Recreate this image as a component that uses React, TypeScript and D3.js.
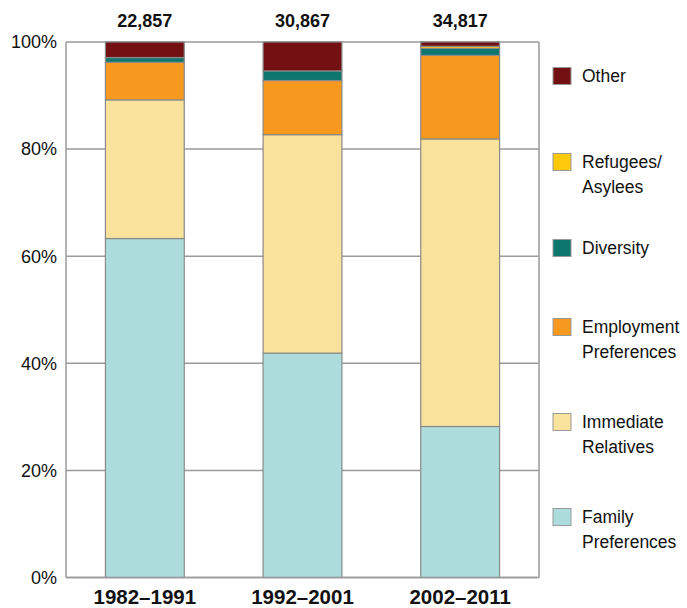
import React from 'react';
import * as d3 from 'd3';

// decades shown on the x axis
const periods = ['1982–1991', '1992–2001', '2002–2011'];
const totals = ['22,857', '30,867', '34,817'];

// share of each class of admission, in percent (bottom to top)
const familyPreferences = [63.3, 41.9, 28.2];
const immediateRelatives = [25.9, 40.8, 53.7];
const employmentPreferences = [7.0, 10.1, 15.6];
const diversity = [0.9, 1.8, 1.3];
const refugeesAsylees = [0.0, 0.0, 0.4];
const other = [2.9, 5.4, 0.8];

const yTicks = [0, 20, 40, 60, 80, 100];

const seriesKeys = ['Family', 'Immediate', 'Employment', 'Diversity', 'Refugees', 'Other'];
const seriesColors = ['#acdcdc', '#f9e29c', '#f7991f', '#0e776d', '#fdc90a', '#731012'];
const legendLabels = [
  ['Family', 'Preferences'],
  ['Immediate', 'Relatives'],
  ['Employment', 'Preferences'],
  ['Diversity'],
  ['Refugees/', 'Asylees'],
  ['Other'],
];
// legend rows sit at these centres (from top of page), bottom series first
const legendY = [517, 422, 327, 248, 162, 76];

const W = 687;
const H = 608;
const margin = { top: 42, left: 66, right: 148, bottom: 30.5 };
const FONT = '"Liberation Sans", Arial, sans-serif';

export default function App() {
  const rows = periods.map((p, i) => ({
    period: p,
    Family: familyPreferences[i],
    Immediate: immediateRelatives[i],
    Employment: employmentPreferences[i],
    Diversity: diversity[i],
    Refugees: refugeesAsylees[i],
    Other: other[i],
  }));

  const stacked = d3.stack<any>().keys(seriesKeys)(rows);

  const x = d3.scaleBand()
    .domain(periods)
    .range([margin.left, W - margin.right])
    .paddingInner(0.5)
    .paddingOuter(0.25);

  const y = d3.scaleLinear()
    .domain([0, 100])
    .range([H - margin.bottom, margin.top]);

  const x0 = margin.left;
  const x1 = W - margin.right;

  return (
    <div style={{ position: 'absolute', left: 0, top: 0 }}>
      <svg width={W} height={H} style={{ display: 'block', fontFamily: FONT }}>
        {/* gridlines */}
        {yTicks.map(t => (
          <line key={t} x1={x0} x2={x1} y1={y(t)} y2={y(t)} stroke="#9a9a9a" strokeWidth={1.5} />
        ))}
        {/* frame */}
        <line x1={x0} x2={x0} y1={y(0)} y2={y(100)} stroke="#9a9a9a" strokeWidth={1.5} />
        <line x1={x1} x2={x1} y1={y(0)} y2={y(100)} stroke="#9a9a9a" strokeWidth={1.5} />

        {/* bars */}
        {stacked.map((s, si) => (
          <g key={s.key}>
            {s.map((d, i) => (
              d[1] - d[0] > 0 ? (
                <rect
                  key={i}
                  x={x(periods[i])}
                  y={y(d[1])}
                  width={x.bandwidth()}
                  height={y(d[0]) - y(d[1])}
                  fill={seriesColors[si]}
                  stroke="#8a8a8a"
                  strokeWidth={1.2}
                />
              ) : null
            ))}
          </g>
        ))}
        <line x1={x0} x2={x1} y1={y(0)} y2={y(0)} stroke="#9a9a9a" strokeWidth={1.5} />

        {/* y tick labels */}
        {yTicks.map(t => (
          <text key={t} x={x0 - 9} y={y(t)} dy="0.35em" textAnchor="end" fontSize={18} fill="#111">
            {t}%
          </text>
        ))}

        {/* totals */}
        {periods.map((p, i) => (
          <text key={p} x={x(p)! + x.bandwidth() / 2} y={27} textAnchor="middle" fontSize={18} fontWeight="bold" fill="#111">
            {totals[i]}
          </text>
        ))}

        {/* category labels */}
        {periods.map(p => (
          <text key={p} x={x(p)! + x.bandwidth() / 2} y={604} textAnchor="middle" fontSize={20.5} fontWeight="bold" fill="#111">
            {p}
          </text>
        ))}

        {/* legend */}
        {seriesKeys.map((k, i) => (
          <g key={k} transform={`translate(553, ${legendY[i]})`}>
            <rect x={0} y={-8.5} width={18} height={17} fill={seriesColors[i]} stroke="#999" strokeWidth={1} />
            {legendLabels[i].map((line, li) => (
              <text key={li} x={29} y={li * 25} dy="0.36em" fontSize={17.5} fill="#111">
                {line}
              </text>
            ))}
          </g>
        ))}
      </svg>
    </div>
  );
}
